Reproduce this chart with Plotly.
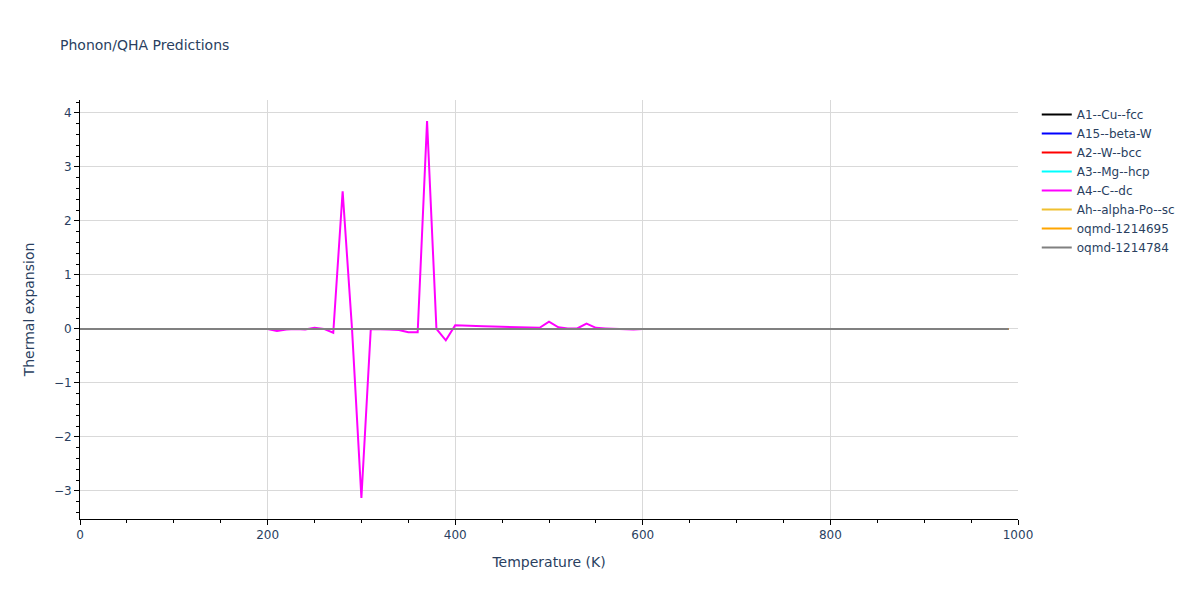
import plotly.graph_objects as go

temperature = list(range(0, 1000, 10))  # K, 10 K grid from 0 to 990

series_names = ["A1--Cu--fcc", "A15--beta-W", "A2--W--bcc", "A3--Mg--hcp",
                "A4--C--dc", "Ah--alpha-Po--sc", "oqmd-1214695", "oqmd-1214784"]
series_colors = ["black", "blue", "red", "cyan", "magenta", "#F0C030", "orange", "gray"]

# Flat series (all read as zero from the picture)
a1_cu_fcc = [0.0] * 100
a15_beta_w = [0.0] * 100
a2_w_bcc = [0.0] * 100
a3_mg_hcp = [0.0] * 100
ah_alpha_po_sc = [0.0] * 100
oqmd_1214695 = [0.0] * 100
oqmd_1214784 = [0.0] * 100

# A4--C--dc values (T = 0..990 step 10)
a4_c_dc = [
    0, 0, 0, 0, 0, 0, 0, 0, 0, 0,                          # 0-90
    0, 0, 0, 0, 0, 0, 0, 0, 0, 0,                          # 100-190
    0, -0.04, -0.01, 0.0, -0.01, 0.02, 0.0, -0.07, 2.55, 0.0,   # 200-290
    -3.13, 0.0, 0.0, -0.01, -0.02, -0.06, -0.06, 3.85, 0.0, -0.21,  # 300-390
    0.07, 0.06, 0.055, 0.05, 0.045, 0.04, 0.035, 0.03, 0.025, 0.02,  # 400-490
    0.135, 0.03, 0.01, 0.01, 0.1, 0.02, 0.01, 0.005, 0.0, -0.01,    # 500-590
    0, 0, 0, 0, 0, 0, 0, 0, 0, 0,                          # 600-690
    0, 0, 0, 0, 0, 0, 0, 0, 0, 0,                          # 700-790
    0, 0, 0, 0, 0, 0, 0, 0, 0, 0,                          # 800-890
    0, 0, 0, 0, 0, 0, 0, 0, 0, 0,                          # 900-990
]

series_values = [a1_cu_fcc, a15_beta_w, a2_w_bcc, a3_mg_hcp, a4_c_dc,
                 ah_alpha_po_sc, oqmd_1214695, oqmd_1214784]

fig = go.Figure()
for name, color, vals in zip(series_names, series_colors, series_values):
    fig.add_trace(go.Scatter(x=temperature, y=vals, mode="lines", name=name,
                             line=dict(color=color, width=2)))

axis_common = dict(showline=True, linecolor="black", linewidth=1,
                   ticks="outside", tickcolor="black", ticklen=5,
                   showgrid=True, gridcolor="#D9D9D9", zeroline=False,
                   automargin=False,
                   minor=dict(ticks="outside", ticklen=3, tickcolor="black", showgrid=False))

fig.update_layout(
    template="plotly_white",
    width=1200, height=600,
    font=dict(family="Verdana, DejaVu Sans, sans-serif", size=12, color="#2a3f5f"),
    title=dict(text="Phonon/QHA Predictions", x=0.05, font=dict(size=14)),
    margin=dict(l=80, r=182, t=100, b=81, autoexpand=False),
    xaxis=dict(title=dict(text="Temperature (K)", font=dict(size=14)), range=[0, 1000], dtick=200, **axis_common),
    yaxis=dict(title=dict(text="Thermal expansion", font=dict(size=14)), range=[-3.52, 4.24], dtick=1, **axis_common),
    legend=dict(x=1.02, y=1),
)
fig.update_xaxes(minor=dict(dtick=50))
fig.update_yaxes(minor=dict(dtick=0.2))

fig.write_html("out.html", config={"displayModeBar": False},
               post_script="document.body.style.margin='0';")
